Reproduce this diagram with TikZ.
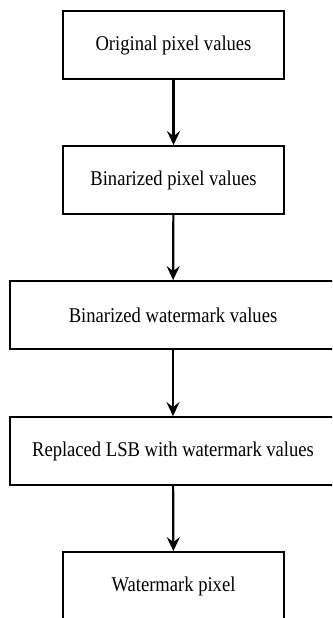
\documentclass[tikz,border=0pt]{standalone}
\usepackage{fontspec}
\setmainfont{Liberation Serif}
\usetikzlibrary{arrows.meta}
\begin{document}
\begin{tikzpicture}[x=1pt,y=-1pt,
  stepbox/.style={draw=black,line width=1.8pt,fill=white,minimum height=68pt,inner sep=0pt,font=\fontsize{21}{24}\selectfont},
  narrow/.style={stepbox,minimum width=221pt},
  wide/.style={stepbox,minimum width=326pt},
  flow/.style={line width=2.2pt,-{Stealth[length=14pt,width=13pt,inset=5pt]}}]
\clip (0,0) rectangle (332,618);
\fill[white] (0,0) rectangle (332,618);
\node[narrow] (b1) at (173.5,45) {\scalebox{0.885}[1]{Original pixel values}};
\node[narrow] (b2) at (173.5,180) {\scalebox{0.885}[1]{Binarized pixel values}};
\node[wide] (b3) at (173,315) {\scalebox{0.885}[1]{Binarized watermark values}};
\node[wide] (b4) at (173,451) {\scalebox{0.885}[1]{Replaced LSB with watermark values}};
\node[narrow] (b5) at (173.5,586) {\scalebox{0.885}[1]{Watermark pixel}};
\draw[flow] (b1) -- (b2);
\draw[flow] (b2) -- (b3);
\draw[flow] (b3) -- (b4);
\draw[flow] (b4) -- (b5);
\end{tikzpicture}
\end{document}
